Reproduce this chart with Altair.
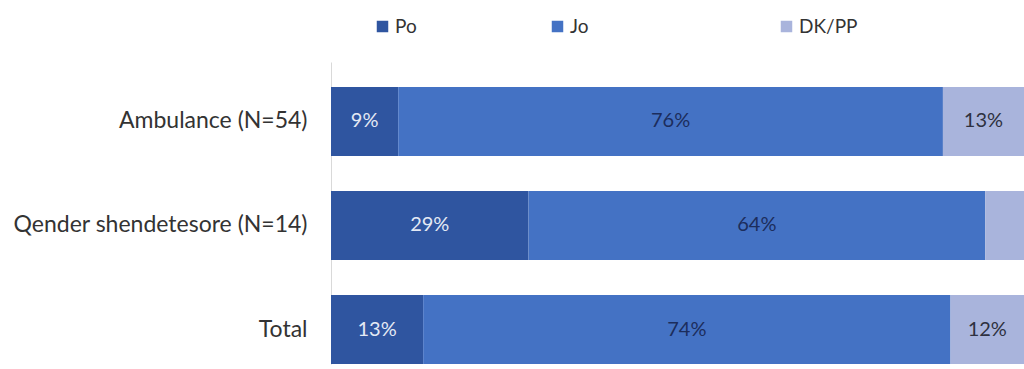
import altair as alt
import pandas as pd

categories = ["Ambulance (N=54)", "Qender shendetesore (N=14)", "Total"]
answers = ["Po", "Jo", "DK/PP"]
po_values = [9.7, 28.5, 13.3]
jo_values = [78.6, 65.9, 76.1]
dk_values = [11.7, 5.6, 10.6]
po_labels = ["9%", "29%", "13%"]
jo_labels = ["76%", "64%", "74%"]
dk_labels = ["13%", "", "12%"]

bar_colors = ["#2f55a0", "#4472c4", "#a9b4dc"]
text_colors = ["#e4e9f4", "#1c2d5c", "#2e3140"]
legend_x = [42, 217, 446]
FONT = "Lato"

rows = []
for i, c in enumerate(categories):
    for j, (vals, labs) in enumerate([(po_values, po_labels), (jo_values, jo_labels), (dk_values, dk_labels)]):
        rows.append({"category": c, "answer": answers[j], "order": j, "value": vals[i], "label": labs[i]})
df = pd.DataFrame(rows)

base = alt.Chart(df).transform_stack(
    stack="value", groupby=["category"], as_=["x0", "x1"], sort=[{"field": "order", "order": "ascending"}]
).transform_calculate(mid="(datum.x0 + datum.x1) / 2")

y = alt.Y(
    "category:N",
    sort=categories,
    title=None,
    scale=alt.Scale(paddingInner=0.337, paddingOuter=0.12, align=1),
    axis=alt.Axis(
        ticks=False,
        labelPadding=24,
        labelFontSize=23,
        labelFont=FONT,
        labelColor="#333333",
        domainColor="#d9d9d9",
        domainWidth=1,
        labelLimit=400,
    ),
)

xenc = alt.X("x0:Q", scale=alt.Scale(domain=[0, 100], nice=False, zero=True), axis=None)

layers = []
for j, a in enumerate(answers):
    layers.append(
        base.transform_filter(alt.datum.answer == a)
        .mark_bar()
        .encode(
            x=xenc,
            x2="x1:Q",
            y=y,
            color=alt.Color(
                "answer:N",
                scale=alt.Scale(domain=[a], range=[bar_colors[j]]),
                legend=alt.Legend(
                    title=None,
                    orient="none",
                    direction="horizontal",
                    legendX=legend_x[j],
                    legendY=-45,
                    symbolType="square",
                    symbolSize=132,
                    symbolStrokeWidth=0,
                    labelFontSize=19,
                    labelFont=FONT,
                    labelColor="#333333",
                    labelOffset=3,
                    padding=0,
                ),
            ),
        )
    )

texts = base.mark_text(fontSize=20, font=FONT).encode(
    x=alt.X("mid:Q"),
    y=alt.Y("category:N", sort=categories),
    text="label:N",
    color=alt.Color("answer:N", scale=alt.Scale(domain=answers, range=text_colors), legend=None),
)
layers.append(texts)

chart = (
    alt.layer(*layers)
    .resolve_scale(color="independent")
    .properties(
        width=693,
        height=302,
        autosize=alt.AutoSizeParams(type="none"),
        padding={"left": 331, "top": 62, "right": 0, "bottom": 5},
        background="white",
    )
    .configure_view(stroke=None)
)

chart.save("out.html", embed_options={"renderer": "svg", "actions": False})
